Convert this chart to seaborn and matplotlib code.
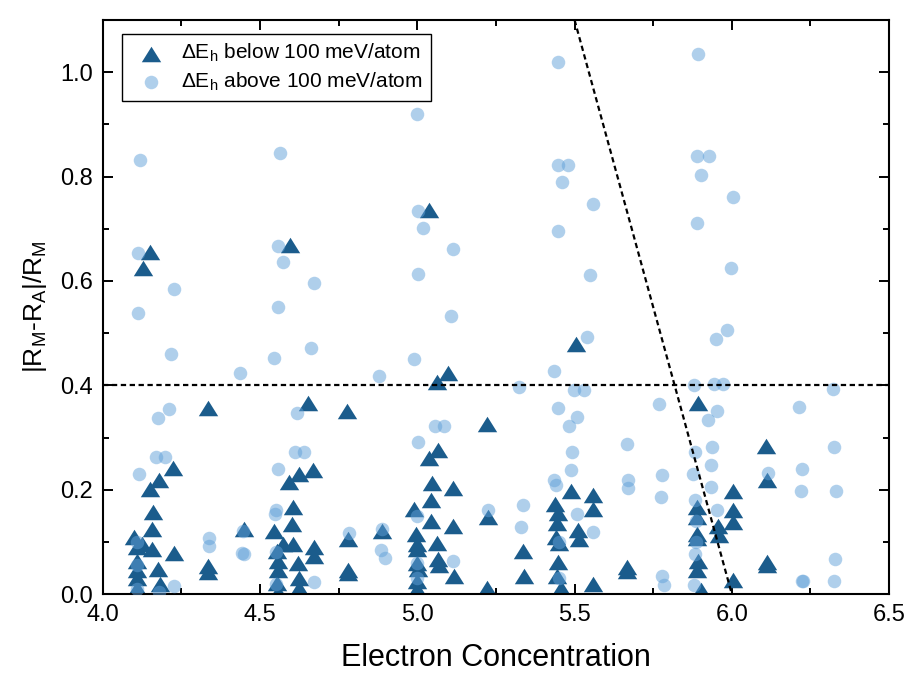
import numpy as np
import pandas as pd
import matplotlib
matplotlib.use("Agg")
import matplotlib.pyplot as plt
from matplotlib.markers import MarkerStyle
from matplotlib.ticker import MultipleLocator
import seaborn as sns

# --- data ------------------------------------------------------------------
# ΔE_h below 100 meV/atom (triangles)
tri_x = [4.149, 4.128, 4.224, 4.179, 4.149, 4.160, 4.157, 4.100, 4.123, 4.157,
         4.110, 4.226, 4.110, 4.110, 4.176, 4.110, 4.110, 4.181,
         4.333, 4.335, 4.335, 4.448,
         4.595, 4.653, 4.593, 4.623, 4.669, 4.605, 4.600, 4.545, 4.573, 4.605,
         4.671, 4.671, 4.555, 4.556, 4.556, 4.619, 4.555, 4.556, 4.624, 4.624,
         4.777, 4.780, 4.780, 4.780, 4.889,
         5.038, 5.098, 5.063, 5.066, 5.038, 5.048, 5.112, 5.045, 4.990, 5.045,
         5.114, 4.996, 5.063, 5.000, 5.000, 5.066, 5.070, 5.003, 5.000, 5.116,
         5.000, 5.000,
         5.220, 5.226, 5.222, 5.335, 5.340,
         5.506, 5.488, 5.560, 5.560, 5.438, 5.447, 5.445, 5.442, 5.450, 5.510,
         5.514, 5.448, 5.445, 5.458, 5.560,
         5.668, 5.668,
         5.891, 6.003, 6.003, 6.003, 5.957, 5.960, 5.888, 5.888, 5.888, 5.890,
         5.893, 5.890, 5.902, 6.005,
         6.109, 6.113, 6.112, 6.112]
tri_y = [0.656, 0.625, 0.241, 0.219, 0.202, 0.157, 0.125, 0.109, 0.097, 0.087,
         0.090, 0.079, 0.064, 0.046, 0.049, 0.030, 0.011, 0.019,
         0.356, 0.053, 0.043, 0.125,
         0.669, 0.366, 0.214, 0.230, 0.237, 0.167, 0.135, 0.121, 0.097, 0.097,
         0.090, 0.074, 0.082, 0.063, 0.047, 0.059, 0.022, 0.005, 0.030, 0.011,
         0.351, 0.106, 0.046, 0.040, 0.121,
         0.736, 0.423, 0.406, 0.276, 0.261, 0.212, 0.204, 0.181, 0.164, 0.140,
         0.130, 0.116, 0.098, 0.097, 0.086, 0.068, 0.055, 0.049, 0.060, 0.034,
         0.026, 0.010,
         0.326, 0.148, 0.011, 0.083, 0.035,
         0.480, 0.198, 0.190, 0.163, 0.173, 0.155, 0.137, 0.109, 0.098, 0.123,
         0.106, 0.061, 0.035, 0.011, 0.019,
         0.052, 0.045,
         0.367, 0.198, 0.162, 0.138, 0.131, 0.113, 0.167, 0.148, 0.116, 0.107,
         0.064, 0.047, 0.007, 0.028,
         0.284, 0.218, 0.062, 0.055]

# ΔE_h above 100 meV/atom (circles)
circ_x = [4.118, 4.112, 4.226, 4.112, 4.218, 4.174, 4.210, 4.168, 4.197, 4.114,
          4.226, 4.110, 4.110, 4.110, 4.180,
          4.337, 4.337, 4.436, 4.448, 4.442, 4.446,
          4.563, 4.558, 4.573, 4.671, 4.558, 4.545, 4.663, 4.618, 4.611, 4.640,
          4.556, 4.552, 4.549, 4.671, 4.550, 4.550,
          4.782, 4.879, 4.886, 4.897, 4.889,
          5.000, 5.001, 5.017, 5.114, 5.001, 5.107, 4.990, 5.056, 5.086, 5.003,
          5.114, 5.000, 5.000, 5.000,
          5.226, 5.324, 5.335, 5.331,
          5.447, 5.446, 5.480, 5.461, 5.558, 5.446, 5.550, 5.540, 5.434, 5.497,
          5.529, 5.446, 5.509, 5.483, 5.493, 5.488, 5.434, 5.440, 5.509, 5.560,
          5.450, 5.450,
          5.666, 5.671, 5.671,
          5.769, 5.779, 5.775, 5.779, 5.784,
          5.892, 5.889, 5.926, 5.902, 6.003, 5.890, 5.996, 5.985, 5.950, 5.880,
          5.943, 5.972, 5.952, 5.925, 5.936, 5.883, 5.933, 5.876, 5.934, 5.883,
          5.952, 5.883, 5.880, 5.885, 5.885,
          6.114, 6.215, 6.222, 6.221, 6.226, 6.224,
          6.323, 6.326, 6.331, 6.328, 6.325]
circ_y = [0.831, 0.653, 0.585, 0.539, 0.461, 0.338, 0.354, 0.262, 0.262, 0.231,
          0.015, 0.100, 0.055, 0.010, 0.005,
          0.108, 0.092, 0.423, 0.077, 0.078, 0.120,
          0.845, 0.667, 0.636, 0.597, 0.550, 0.453, 0.472, 0.348, 0.272, 0.272,
          0.240, 0.162, 0.153, 0.023, 0.080, 0.020,
          0.117, 0.418, 0.085, 0.069, 0.125,
          0.920, 0.735, 0.702, 0.662, 0.613, 0.532, 0.450, 0.323, 0.323, 0.291,
          0.064, 0.150, 0.060, 0.030,
          0.162, 0.396, 0.170, 0.128,
          1.019, 0.823, 0.823, 0.789, 0.747, 0.696, 0.612, 0.493, 0.427, 0.391,
          0.391, 0.356, 0.340, 0.323, 0.272, 0.237, 0.219, 0.210, 0.154, 0.119,
          0.100, 0.030,
          0.288, 0.219, 0.204,
          0.364, 0.229, 0.186, 0.035, 0.017,
          1.035, 0.840, 0.840, 0.804, 0.761, 0.711, 0.625, 0.506, 0.489, 0.401,
          0.402, 0.402, 0.350, 0.333, 0.281, 0.272, 0.248, 0.230, 0.205, 0.181,
          0.162, 0.077, 0.018, 0.140, 0.100,
          0.232, 0.359, 0.239, 0.197, 0.026, 0.026,
          0.393, 0.282, 0.197, 0.068, 0.025]

labels = [r"ΔE$_\mathregular{h}$ below 100 meV/atom",
          r"ΔE$_\mathregular{h}$ above 100 meV/atom"]

# guide lines
h_line_y = 0.4
diag_x = [5.5, 6.0]
diag_y = [1.1, 0.0]

df = pd.DataFrame({
    "x": tri_x + circ_x,
    "y": tri_y + circ_y,
    "group": [labels[0]] * len(tri_x) + [labels[1]] * len(circ_x),
})

# --- style -------------------------------------------------------------------
sns.set_style("ticks")
plt.rcParams.update({
    "font.family": ["Liberation Sans", "DejaVu Sans"],
    "mathtext.fontset": "custom",
    "mathtext.rm": "Liberation Sans",
    "mathtext.it": "Liberation Sans",
    "text.color": "black",
    "axes.labelcolor": "black",
    "xtick.color": "black",
    "ytick.color": "black",
})

TRI_COLOR = "#1b5c8c"
CIRC_COLOR = "#61a1d9"

# flattened up-triangle (wider than tall)
tri_marker = MarkerStyle([(0, 0.8), (-1, -0.8), (1, -0.8), (0, 0.8)])

fig = plt.figure(figsize=(9.1, 6.79), dpi=100)
ax = fig.add_axes([0.113, 0.125, 0.864, 0.8455])

sns.scatterplot(data=df[df["group"] == labels[0]], x="x", y="y", ax=ax,
                marker=tri_marker, s=195, color=TRI_COLOR, linewidth=0,
                label=labels[0], zorder=2)
sns.scatterplot(data=df[df["group"] == labels[1]], x="x", y="y", ax=ax,
                marker="o", s=95, color=CIRC_COLOR, alpha=0.5, linewidth=0,
                label=labels[1], zorder=3)

ax.axhline(h_line_y, color="black", lw=1.6, ls=(0, (2.4, 1.6)), zorder=4)
ax.plot(diag_x, diag_y, color="black", lw=1.6, ls=(0, (2.4, 1.6)), zorder=4)

ax.set_xlim(4.0, 6.5)
ax.set_ylim(0.0, 1.1)
ax.xaxis.set_major_locator(MultipleLocator(0.5))
ax.xaxis.set_minor_locator(MultipleLocator(0.25))
ax.yaxis.set_major_locator(MultipleLocator(0.2))
ax.yaxis.set_minor_locator(MultipleLocator(0.1))
ax.tick_params(which="both", direction="in", top=True, right=True, width=1.4)
ax.tick_params(which="major", length=7, labelsize=17, pad=7)
ax.tick_params(which="minor", length=4)
for sp in ax.spines.values():
    sp.set_linewidth(1.5)
    sp.set_color("black")

ax.set_xlabel("Electron Concentration", fontsize=22, labelpad=12)
ax.set_ylabel(r"|R$_\mathregular{M}$-R$_\mathregular{A}$|/R$_\mathregular{M}$",
              fontsize=19, labelpad=8)

leg = ax.legend(loc="upper left", bbox_to_anchor=(0.024, 0.976), borderaxespad=0,
                fontsize=15, frameon=True, fancybox=False, edgecolor="black",
                handletextpad=0.45, borderpad=0.4, labelspacing=0.3,
                handlelength=2.0)
leg.get_frame().set_linewidth(1.0)
leg.get_frame().set_alpha(1)

fig.savefig("out.png", dpi=100)
